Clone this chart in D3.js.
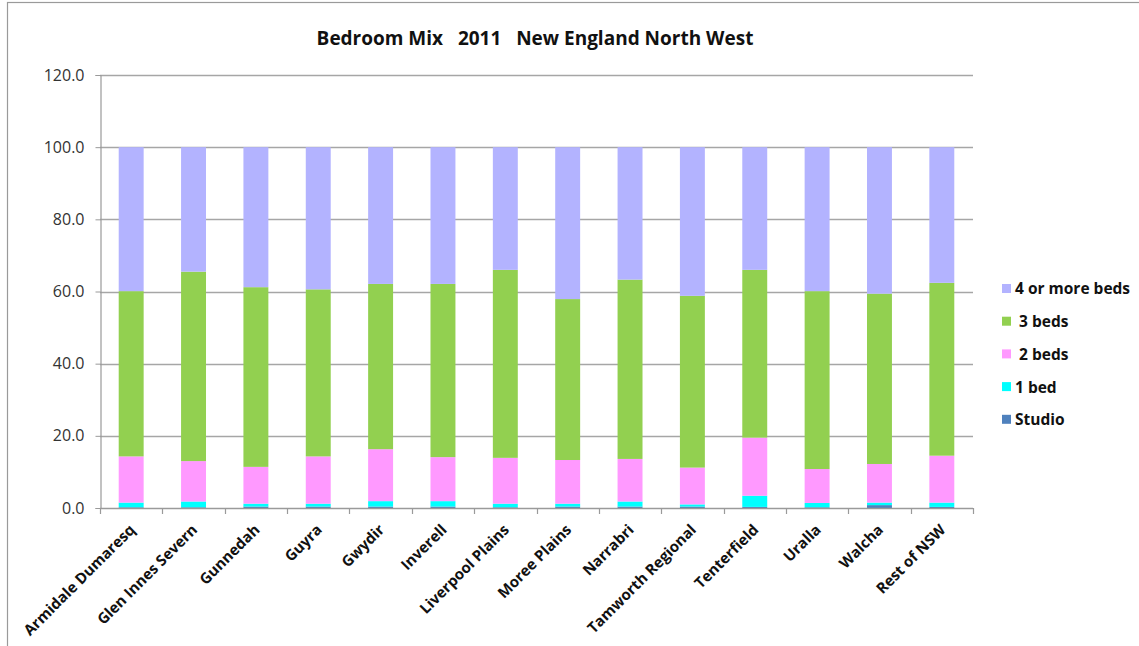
<!DOCTYPE html>
<html>
<head>
<meta charset="utf-8">
<script src="https://cdn.jsdelivr.net/npm/d3@7"></script>
<style>
  html, body { margin: 0; padding: 0; background: #fff; }
  svg { display: block; }
  text { font-family: "Open Sans", "Noto Sans", sans-serif; }
</style>
</head>
<body>
<svg id="chart" width="1139" height="646"></svg>
<script>
// Local government areas plus the state remainder
const categories = [
  "Armidale Dumaresq", "Glen Innes Severn", "Gunnedah", "Guyra", "Gwydir",
  "Inverell", "Liverpool Plains", "Moree Plains", "Narrabri", "Tamworth Regional",
  "Tenterfield", "Uralla", "Walcha", "Rest of NSW"
];

// Share of dwellings (%) by number of bedrooms
const studio     = [0.2, 0.2, 0.4, 0.4, 0.4, 0.4, 0.2, 0.4, 0.4, 0.4, 0.3, 0.2, 0.8, 0.3];
const oneBed     = [1.3, 1.6, 0.8, 0.8, 1.5, 1.5, 1.0, 0.8, 1.4, 0.6, 3.1, 1.2, 0.7, 1.2];
const twoBeds    = [12.8, 11.2, 10.2, 13.1, 14.4, 12.2, 12.7, 12.1, 11.8, 10.2, 16.1, 9.4, 10.7, 13.0];
const threeBeds  = [45.8, 52.5, 49.8, 46.3, 45.8, 48.0, 52.1, 44.6, 49.7, 47.6, 46.5, 49.3, 47.2, 47.9];
const fourPlus   = [39.9, 34.5, 38.8, 39.4, 37.9, 37.9, 34.0, 42.1, 36.7, 41.2, 34.0, 39.9, 40.6, 37.6];

const seriesNames = ["Studio", "1 bed", "2 beds", "3 beds", "4 or more beds"];
const legendLabels = ["4 or more beds", " 3 beds", " 2 beds", "1 bed", "Studio"];
const yTicks = [0, 20, 40, 60, 80, 100, 120];

const colors = {
  "Studio": "#4f81bd",
  "1 bed": "#00ffff",
  "2 beds": "#ff99ff",
  "3 beds": "#92d050",
  "4 or more beds": "#b3b3ff"
};

const rows = categories.map((c, i) => ({
  area: c,
  "Studio": studio[i],
  "1 bed": oneBed[i],
  "2 beds": twoBeds[i],
  "3 beds": threeBeds[i],
  "4 or more beds": fourPlus[i]
}));

const svg = d3.select("#chart");
const margin = { left: 100, top: 75, right: 166, bottom: 138 };
const W = 1139, H = 646;

// Outer chart frame
svg.append("rect")
  .attr("x", 7.5).attr("y", 2.5)
  .attr("width", W + 20).attr("height", H + 20)
  .attr("fill", "none").attr("stroke", "#9a9a9a").attr("stroke-width", 1.2);

const x = d3.scaleBand()
  .domain(categories)
  .range([margin.left, W - margin.right])
  .paddingInner(0.6).paddingOuter(0.3);

const y = d3.scaleLinear()
  .domain([0, 120])
  .range([H - margin.bottom, margin.top]);

// Gridlines
svg.append("g")
  .selectAll("line")
  .data(yTicks.filter(t => t > 0))
  .join("line")
  .attr("x1", margin.left).attr("x2", W - margin.right)
  .attr("y1", d => Math.round(y(d)) + 0.5).attr("y2", d => Math.round(y(d)) + 0.5)
  .attr("stroke", "#a6a6a6").attr("stroke-width", 1.3);

// Stacked bars
const stack = d3.stack().keys(seriesNames);
const layers = stack(rows);

svg.append("g")
  .selectAll("g")
  .data(layers)
  .join("g")
  .attr("fill", d => colors[d.key])
  .selectAll("rect")
  .data(d => d)
  .join("rect")
  .attr("x", d => x(d.data.area))
  .attr("width", x.bandwidth())
  .attr("y", d => y(d[1]))
  .attr("height", d => y(d[0]) - y(d[1]));

// Y axis
const yAxis = d3.axisLeft(y)
  .tickValues(yTicks)
  .tickFormat(d3.format(".1f"))
  .tickSize(5)
  .tickPadding(11);

const gy = svg.append("g")
  .attr("transform", `translate(${margin.left + 0.5},0)`)
  .call(yAxis);
gy.select(".domain").attr("stroke", "#9a9a9a").attr("stroke-width", 1.2);
gy.selectAll(".tick line").attr("stroke", "#9a9a9a");
gy.selectAll(".tick text")
  .attr("font-size", 16).attr("fill", "#333")
  .style("font-family", "'Open Sans', sans-serif");

// X axis: tick marks on band boundaries
const boundaries = d3.range(categories.length + 1).map(i => margin.left + i * (W - margin.right - margin.left) / categories.length);
const gx = svg.append("g");
gx.append("line")
  .attr("x1", margin.left).attr("x2", W - margin.right)
  .attr("y1", y(0) + 0.5).attr("y2", y(0) + 0.5)
  .attr("stroke", "#9a9a9a").attr("stroke-width", 1.3);
gx.selectAll("line.tick")
  .data(boundaries)
  .join("line")
  .attr("class", "tick")
  .attr("x1", d => Math.round(d) + 0.5).attr("x2", d => Math.round(d) + 0.5)
  .attr("y1", y(0)).attr("y2", y(0) + 6)
  .attr("stroke", "#9a9a9a").attr("stroke-width", 1.2);

gx.selectAll("text")
  .data(categories)
  .join("text")
  .attr("transform", d => `translate(${x(d) + x.bandwidth() / 2 + 1},${y(0) + 19}) rotate(-45)`)
  .attr("text-anchor", "end")
  .attr("dy", "0.35em")
  .attr("font-size", 15)
  .attr("font-weight", "bold")
  .attr("fill", "#111")
  .text(d => d);

// Title
svg.append("text")
  .attr("x", 535).attr("y", 45)
  .attr("text-anchor", "middle")
  .attr("font-size", 19)
  .attr("font-weight", "bold")
  .attr("fill", "#111")
  .style("white-space", "pre")
  .text("Bedroom Mix   2011   New England North West");

// Legend
const legend = svg.append("g");
legendLabels.forEach((label, i) => {
  const key = seriesNames[seriesNames.length - 1 - i];
  const cy = 289 + i * 32.7;
  legend.append("rect")
    .attr("x", 1002).attr("y", cy - 5)
    .attr("width", 9).attr("height", 9)
    .attr("fill", colors[key]);
  legend.append("text")
    .attr("x", 1015).attr("y", cy)
    .attr("dy", "0.35em")
    .attr("font-size", 15.5)
    .attr("font-weight", "bold")
    .attr("fill", "#111")
    .style("white-space", "pre")
    .text(label);
});
</script>
</body>
</html>
